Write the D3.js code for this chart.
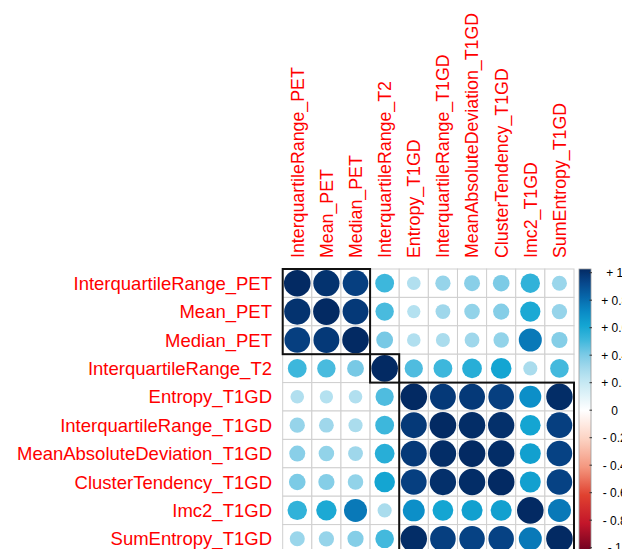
<!DOCTYPE html>
<html>
<head>
<meta charset="utf-8">
<script src="https://cdn.jsdelivr.net/npm/d3@7"></script>
<style>
  html, body { margin: 0; padding: 0; background: #ffffff; overflow: hidden; }
  svg { display: block; }
  text { font-family: "Liberation Sans", Arial, sans-serif; }
</style>
</head>
<body>
<svg id="chart" width="622" height="549"></svg>
<script>
// Variables in clustered order
const variables = [
  "InterquartileRange_PET",
  "Mean_PET",
  "Median_PET",
  "InterquartileRange_T2",
  "Entropy_T1GD",
  "InterquartileRange_T1GD",
  "MeanAbsoluteDeviation_T1GD",
  "ClusterTendency_T1GD",
  "Imc2_T1GD",
  "SumEntropy_T1GD"
];

// Pearson correlation matrix, one row per variable
const corrValues = [
  [1.00, 0.97, 0.93, 0.50, 0.26, 0.33, 0.36, 0.39, 0.53, 0.32],
  [0.97, 1.00, 0.95, 0.48, 0.25, 0.31, 0.34, 0.37, 0.58, 0.33],
  [0.93, 0.95, 1.00, 0.40, 0.26, 0.28, 0.31, 0.34, 0.75, 0.37],
  [0.50, 0.48, 0.40, 1.00, 0.47, 0.50, 0.55, 0.60, 0.28, 0.49],
  [0.26, 0.25, 0.26, 0.47, 1.00, 0.95, 0.95, 0.93, 0.68, 0.99],
  [0.33, 0.31, 0.28, 0.50, 0.95, 1.00, 0.99, 0.98, 0.60, 0.93],
  [0.36, 0.34, 0.31, 0.55, 0.95, 0.99, 1.00, 0.99, 0.62, 0.92],
  [0.39, 0.37, 0.34, 0.60, 0.93, 0.98, 0.99, 1.00, 0.62, 0.92],
  [0.53, 0.58, 0.75, 0.28, 0.68, 0.60, 0.62, 0.62, 1.00, 0.75],
  [0.32, 0.33, 0.37, 0.49, 0.99, 0.93, 0.92, 0.92, 0.75, 1.00]
];

// Hierarchical clusters outlined on the matrix (first and last variable index)
const clusterStart = [0, 3, 4];
const clusterEnd   = [2, 3, 9];

// Colour legend ticks
const legendTicks  = [1, 0.8, 0.6, 0.4, 0.2, 0, -0.2, -0.4, -0.6, -0.8, -1];
const legendLabels = ["+ 1", "+ 0.8", "+ 0.6", "+ 0.4", "+ 0.2", "0", "- 0.2", "- 0.4", "- 0.6", "- 0.8", "- 1"];

// Diverging red–white–blue palette
const paletteDomain = [-1, -0.8, -0.6, -0.4, -0.2, 0, 0.2, 0.3, 0.4, 0.5, 0.6, 0.7, 0.8, 0.9, 1];
const paletteColors = ["#6b0020", "#c2152a", "#e0412f", "#f4977f", "#fcd3c3", "#ffffff",
                       "#c5e8f3", "#a3d9ec", "#78c9e5", "#3db7dc", "#14a5d2", "#0a8ac5",
                       "#0767aa", "#07488c", "#032a63"];
const color = d3.scaleLinear().domain(paletteDomain).range(paletteColors).interpolate(d3.interpolateRgb);

const svg = d3.select("#chart");

const grid = { left: 282.7, right: 574, top: 269, bottom: 553 };
const x = d3.scaleBand().domain(variables).range([grid.left, grid.right]).padding(0);
const y = d3.scaleBand().domain(variables).range([grid.top, grid.bottom]).padding(0);
const radius = d3.scaleSqrt().domain([0, 1]).range([0, 13.3]);

const cells = [];
corrValues.forEach((row, i) => row.forEach((v, j) => cells.push({ r: variables[i], c: variables[j], v })));

// Cell grid
svg.append("g").selectAll("rect")
  .data(cells)
  .join("rect")
  .attr("x", d => x(d.c))
  .attr("y", d => y(d.r))
  .attr("width", x.bandwidth())
  .attr("height", y.bandwidth())
  .attr("fill", "#ffffff")
  .attr("stroke", "#cfcfcf")
  .attr("stroke-width", 1);

// Correlation circles
svg.append("g").selectAll("circle")
  .data(cells)
  .join("circle")
  .attr("cx", d => x(d.c) + x.bandwidth() / 2)
  .attr("cy", d => y(d.r) + y.bandwidth() / 2)
  .attr("r", d => radius(Math.abs(d.v)))
  .attr("fill", d => color(d.v));

// Cluster rectangles
svg.append("g").selectAll("rect")
  .data(clusterStart.map((s, k) => ({ s, e: clusterEnd[k] })))
  .join("rect")
  .attr("x", d => x(variables[d.s]))
  .attr("y", d => y(variables[d.s]))
  .attr("width", d => x(variables[d.e]) + x.bandwidth() - x(variables[d.s]))
  .attr("height", d => y(variables[d.e]) + y.bandwidth() - y(variables[d.s]))
  .attr("fill", "none")
  .attr("stroke", "#111111")
  .attr("stroke-width", 2);

// Row labels
svg.append("g").selectAll("text")
  .data(variables)
  .join("text")
  .attr("x", 272)
  .attr("y", d => y(d) + y.bandwidth() / 2)
  .attr("dy", "0.36em")
  .attr("text-anchor", "end")
  .attr("fill", "#ff0000")
  .style("font-size", "18.5px")
  .text(d => d);

// Column labels, rotated
svg.append("g").selectAll("text")
  .data(variables)
  .join("text")
  .attr("transform", d => `translate(${x(d) + x.bandwidth() / 2},258) rotate(-90)`)
  .attr("dy", "0.36em")
  .attr("text-anchor", "start")
  .attr("fill", "#ff0000")
  .style("font-size", "17.8px")
  .text(d => d);

// Colour legend
const legend = { x: 579, width: 12, top: 269, bottom: 552 };
const ly = d3.scaleLinear().domain([1, -1]).range([272.7, 547.7]);

const grad = svg.append("defs").append("linearGradient")
  .attr("id", "legendGrad")
  .attr("x1", 0).attr("y1", 0).attr("x2", 0).attr("y2", 1);
const gradSteps = d3.range(0, 41).map(k => 1 - k / 20);
grad.selectAll("stop")
  .data(gradSteps)
  .join("stop")
  .attr("offset", (d, k) => `${(k / 40) * 100}%`)
  .attr("stop-color", d => color(d));

svg.append("rect")
  .attr("x", legend.x)
  .attr("y", legend.top)
  .attr("width", legend.width)
  .attr("height", legend.bottom - legend.top)
  .attr("fill", "url(#legendGrad)")
  .attr("stroke", "#9a9a9a")
  .attr("stroke-width", 0.8);

const lg = svg.append("g");
lg.selectAll("line")
  .data(legendTicks)
  .join("line")
  .attr("x1", legend.x + legend.width - 1.5)
  .attr("x2", legend.x + legend.width + 1)
  .attr("y1", d => ly(d))
  .attr("y2", d => ly(d))
  .attr("stroke", "#333333")
  .attr("stroke-width", 1);

lg.selectAll("text")
  .data(legendTicks)
  .join("text")
  .attr("x", 614.7)
  .attr("y", d => ly(d))
  .attr("dy", "0.36em")
  .attr("text-anchor", "middle")
  .attr("fill", "#000000")
  .style("font-size", "12px")
  .text((d, k) => legendLabels[k]);
</script>
</body>
</html>
